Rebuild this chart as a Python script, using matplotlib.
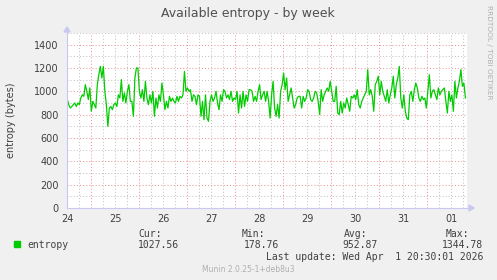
import numpy as np
import matplotlib
matplotlib.use("Agg")
import matplotlib.pyplot as plt

# ---- data ----
day_labels = ["24", "25", "26", "27", "28", "29", "30", "31", "01"]
y_ticks = [0, 200, 400, 600, 800, 1000, 1200, 1400]

entropy_seg1 = [930, 886, 857, 870, 886, 900, 870, 900, 886, 943, 970, 957, 1057, 1000,
                930, 1030, 830, 914, 886, 857, 1057, 1143, 1214, 1114, 1214, 1000, 886,
                700, 857, 870, 843, 886, 900, 870, 970, 943, 1100, 914, 986, 900, 1000, 1057]
entropy_seg2 = [914, 914, 786, 1114, 1200, 1200, 1000, 943, 1014, 914, 1086, 943, 886,
                970, 900, 1000, 786, 943, 857, 970, 914, 1071, 970, 843, 914, 857, 957, 914,
                943, 914, 900, 957, 914, 957, 943, 970, 1171, 1000, 1029, 1000, 1014, 914,
                970, 957, 886, 970]
entropy_seg3 = [957, 786, 914, 757, 970, 771, 743, 914, 970, 914, 943, 1000, 900, 843, 970,
                914, 1014, 1000, 943, 970, 929, 1000, 914, 943, 929, 1000, 814, 970, 857,
                1000, 871, 970, 914, 1014, 1014, 1000, 914, 957, 914, 1000, 1057, 929, 970,
                1000, 914, 1000]
entropy_seg4 = [914, 771, 970, 1086, 857, 786, 886, 771, 1000, 1057, 1157, 1014, 1114, 914,
                970, 1029, 943, 857, 886, 943, 957, 957, 857, 957, 914, 943, 1014, 1000, 929,
                914, 943, 1000, 986, 914, 800, 1014, 914, 970, 1000, 1029, 1000, 1086, 1000,
                914, 914, 1043, 814, 800]
entropy_seg5 = [914, 814, 900, 857, 943, 886, 829, 957, 943, 970, 929, 1014, 886, 857, 914,
                943, 970, 1000, 1186, 970, 1014, 957, 829, 1057, 1086, 1129, 970, 1086, 1000,
                957, 914, 1014, 900, 970, 1029, 1129, 943, 1057, 1114, 1214, 943, 857, 970,
                829, 771]
entropy_seg6 = [757, 970, 1000, 914, 1014, 1071, 1029, 943, 914, 957, 929, 943, 857, 1000,
                1143, 943, 1000, 1014, 970, 929, 1029, 970, 1000, 1014, 1029, 914, 814, 1000,
                914, 970, 829, 1086, 943, 1029, 1086, 1186, 1043, 1071, 943]
entropy = entropy_seg1 + entropy_seg2 + entropy_seg3 + entropy_seg4 + entropy_seg5 + entropy_seg6

legend_name = "entropy"
stat_cur, stat_min, stat_avg, stat_max = "1027.56", "178.76", "952.87", "1344.78"

# sample times in days from the left edge (evenly spaced samples)
t_start, t_end = 0.006, 8.30
times = np.linspace(t_start, t_end, len(entropy))

# ---- figure ----
W, H = 497, 280
fig = plt.figure(figsize=(W / 100, H / 100), dpi=100, facecolor="#f0f0f0")
L, R, T, B = 67, 467, 33, 208
ax = fig.add_axes([L / W, 1 - B / H, (R - L) / W, (B - T) / H])
ax.set_facecolor("white")
x_max = (R - L) / 48.0
ax.set_xlim(0, x_max)
ax.set_ylim(0, 1500)
for s in ax.spines.values():
    s.set_visible(False)

dot = (0, (1.0, 2.0))
glw = 0.75
# minor grid
for v in np.arange(100, 1501, 200):
    ax.axhline(v, color="#c4c4c4", lw=glw, ls=dot, zorder=1)
for d in np.arange(0.25, x_max, 0.25):
    if abs(d - round(d - 0.5) - 0.5) > 1e-6:
        ax.axvline(d, color="#c4c4c4", lw=glw, ls=dot, zorder=1)
# major grid
for v in y_ticks[1:]:
    ax.axhline(v, color="#eb9a9a", lw=glw, ls=dot, zorder=2)
for d in np.arange(0.5, x_max, 1.0):
    ax.axvline(d, color="#eb9a9a", lw=glw, ls=dot, zorder=2)

ax.plot(times, entropy, color="#00cc00", lw=0.9, zorder=5)

ax.set_yticks(y_ticks)
ax.set_yticklabels([str(v) for v in y_ticks])
ax.set_xticks(np.arange(len(day_labels)))
ax.set_xticklabels(day_labels)
ax.tick_params(axis="both", length=0, labelsize=7, labelcolor="#404040", pad=6)
ax.tick_params(axis="x", pad=4)

# axes lines with arrows
ax_col = "#c8c8f0"
fig.add_artist(plt.Line2D([L / W, L / W], [1 - B / H, 1 - 30 / H], color=ax_col, lw=0.8,
                          transform=fig.transFigure))
fig.add_artist(plt.Line2D([L / W, 469 / W], [1 - B / H, 1 - B / H], color=ax_col, lw=0.8,
                          transform=fig.transFigure))
fig.add_artist(plt.Polygon([[(L - 3) / W, 1 - 32 / H], [(L + 3) / W, 1 - 32 / H], [L / W, 1 - 27 / H]],
                           closed=True, color=ax_col, transform=fig.transFigure))
fig.add_artist(plt.Polygon([[469 / W, 1 - (B - 3) / H], [469 / W, 1 - (B + 3) / H], [474 / W, 1 - B / H]],
                           closed=True, color=ax_col, transform=fig.transFigure))

# texts
fig.text(248 / W, 1 - 13 / H, "Available entropy - by week", ha="center", va="center",
         fontsize=9, color="#505050")
fig.text(11 / W, 1 - 120 / H, "entropy (bytes)", ha="center", va="center", rotation=90,
         fontsize=7, color="#404040")
fig.text(489 / W, 1 - 5 / H, "RRDTOOL / TOBI OETIKER", ha="center", va="top", rotation=270,
         fontsize=5.3, color="#b0b0b0")

mono = "DejaVu Sans Mono"
fs = 7
fig.add_artist(plt.Rectangle((14 / W, 1 - 247 / H), 6 / W, 6 / H, color="#00cc00",
                             transform=fig.transFigure))
fig.text(27 / W, 1 - 245 / H, legend_name, ha="left", va="center", family=mono, fontsize=fs, color="#404040")
for hdr, val, xh, xv in [("Cur:", stat_cur, 162, 179), ("Min:", stat_min, 265, 279),
                         ("Avg:", stat_avg, 367, 378), ("Max:", stat_max, 469, 483)]:
    fig.text(xh / W, 1 - 234 / H, hdr, ha="right", va="center", family=mono, fontsize=fs, color="#404040")
    fig.text(xv / W, 1 - 245 / H, val, ha="right", va="center", family=mono, fontsize=fs, color="#404040")
fig.text(483 / W, 1 - 257 / H, "Last update: Wed Apr  1 20:30:01 2026", ha="right", va="center",
         family=mono, fontsize=fs, color="#404040")
fig.text(248 / W, 1 - 269 / H, "Munin 2.0.25-1+deb8u3", ha="center", va="center",
         fontsize=5.5, color="#b0b0b0")

fig.savefig("out.png", dpi=100, facecolor=fig.get_facecolor())
